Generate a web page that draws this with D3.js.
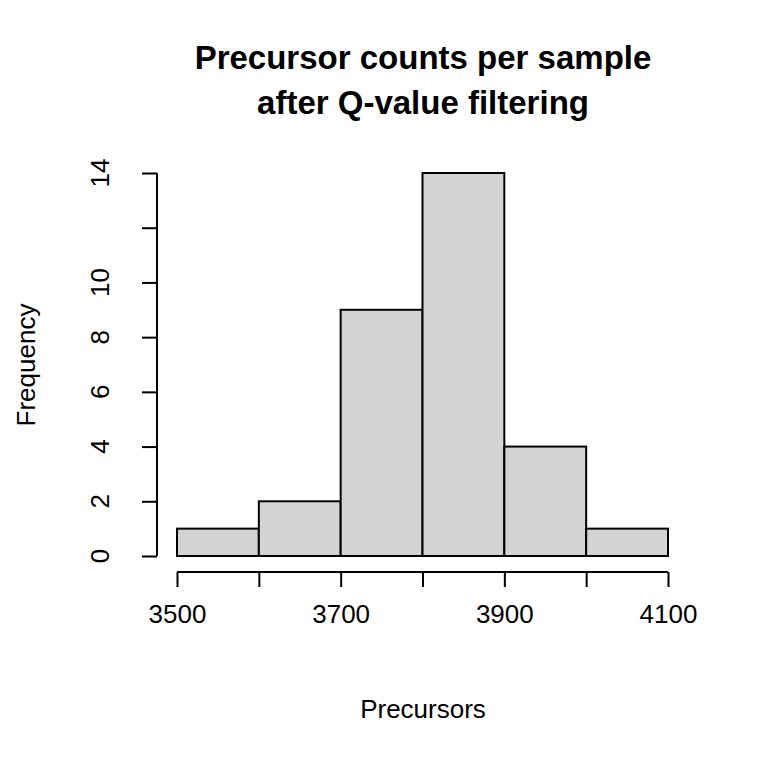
<!DOCTYPE html>
<html>
<head>
<script src="https://cdn.jsdelivr.net/npm/d3@7"></script>
<style>body{margin:0;background:#fff}</style>
</head>
<body>
<div id="chart"></div>
<script>
// histogram bins and counts
var binStarts = [3500, 3600, 3700, 3800, 3900, 4000]
var binWidth = 100
var counts = [1, 2, 9, 14, 4, 1]
var xTicks = [3500, 3600, 3700, 3800, 3900, 4000, 4100]
var xLabels = [3500, 3700, 3900, 4100]
var yTicks = [0, 2, 4, 6, 8, 10, 12, 14]
var yLabels = [0, 2, 4, 6, 8, 10, 14]

var font = "'Liberation Sans', Arial, sans-serif"
var svg = d3.select("#chart").append("svg")
      .attr("width", 768).attr("height", 768)
      .style("font-family", font)

var x = d3.scaleLinear().domain([3500, 4100]).range([177, 668])
var y = d3.scaleLinear().domain([0, 14]).range([556, 173])

// bars
svg.selectAll("rect.bar")
      .data(counts)
      .enter()
      .append("rect")
      .attr("x", function (d, i) { return x(binStarts[i]); })
      .attr("width", function (d, i) { return x(binStarts[i] + binWidth) - x(binStarts[i]); })
      .attr("y", function (d) { return y(d); })
      .attr("height", function (d) { return y(0) - y(d); })
      .attr("fill", "#d3d3d3")
      .attr("stroke", "#000")
      .attr("stroke-width", 2)

// x axis
var xAxis = svg.append("g").attr("transform", "translate(0,572)")
      .call(d3.axisBottom(x).tickValues(xTicks).tickSize(15)
            .tickFormat(function (d) { return xLabels.indexOf(d) >= 0 ? d : ""; }))
xAxis.select(".domain").attr("stroke-width", 2).attr("d", "M" + x(3500) + ",0H" + x(4100))
xAxis.selectAll(".tick line").attr("stroke-width", 2)
xAxis.selectAll("text").style("font-size", "26px").style("font-family", font).attr("y", 42).attr("dy", "0.35em")

// y axis
var yAxis = svg.append("g").attr("transform", "translate(157,0)")
      .call(d3.axisLeft(y).tickValues(yTicks).tickSize(15).tickFormat(""))
yAxis.select(".domain").attr("stroke-width", 2).attr("d", "M0," + y(0) + "V" + y(14))
yAxis.selectAll(".tick line").attr("stroke-width", 2)

svg.selectAll("text.ylab")
      .data(yLabels)
      .enter()
      .append("text")
      .attr("class", "ylab")
      .attr("transform", function (d) { return "translate(109," + y(d) + ") rotate(-90)"; })
      .attr("text-anchor", "middle")
      .style("font-size", "26px")
      .text(function (d) { return d; })

// titles
svg.append("text").attr("x", 423).attr("y", 69).attr("text-anchor", "middle")
      .style("font-size", "33px").attr("font-weight", "bold").text("Precursor counts per sample")
svg.append("text").attr("x", 423).attr("y", 114).attr("text-anchor", "middle")
      .style("font-size", "33px").attr("font-weight", "bold").text("after Q-value filtering")
svg.append("text").attr("x", 423).attr("y", 718).attr("text-anchor", "middle")
      .style("font-size", "26px").text("Precursors")
svg.append("text").attr("transform", "translate(35,365) rotate(-90)").attr("text-anchor", "middle")
      .style("font-size", "26px").text("Frequency")
</script>
</body>
</html>
